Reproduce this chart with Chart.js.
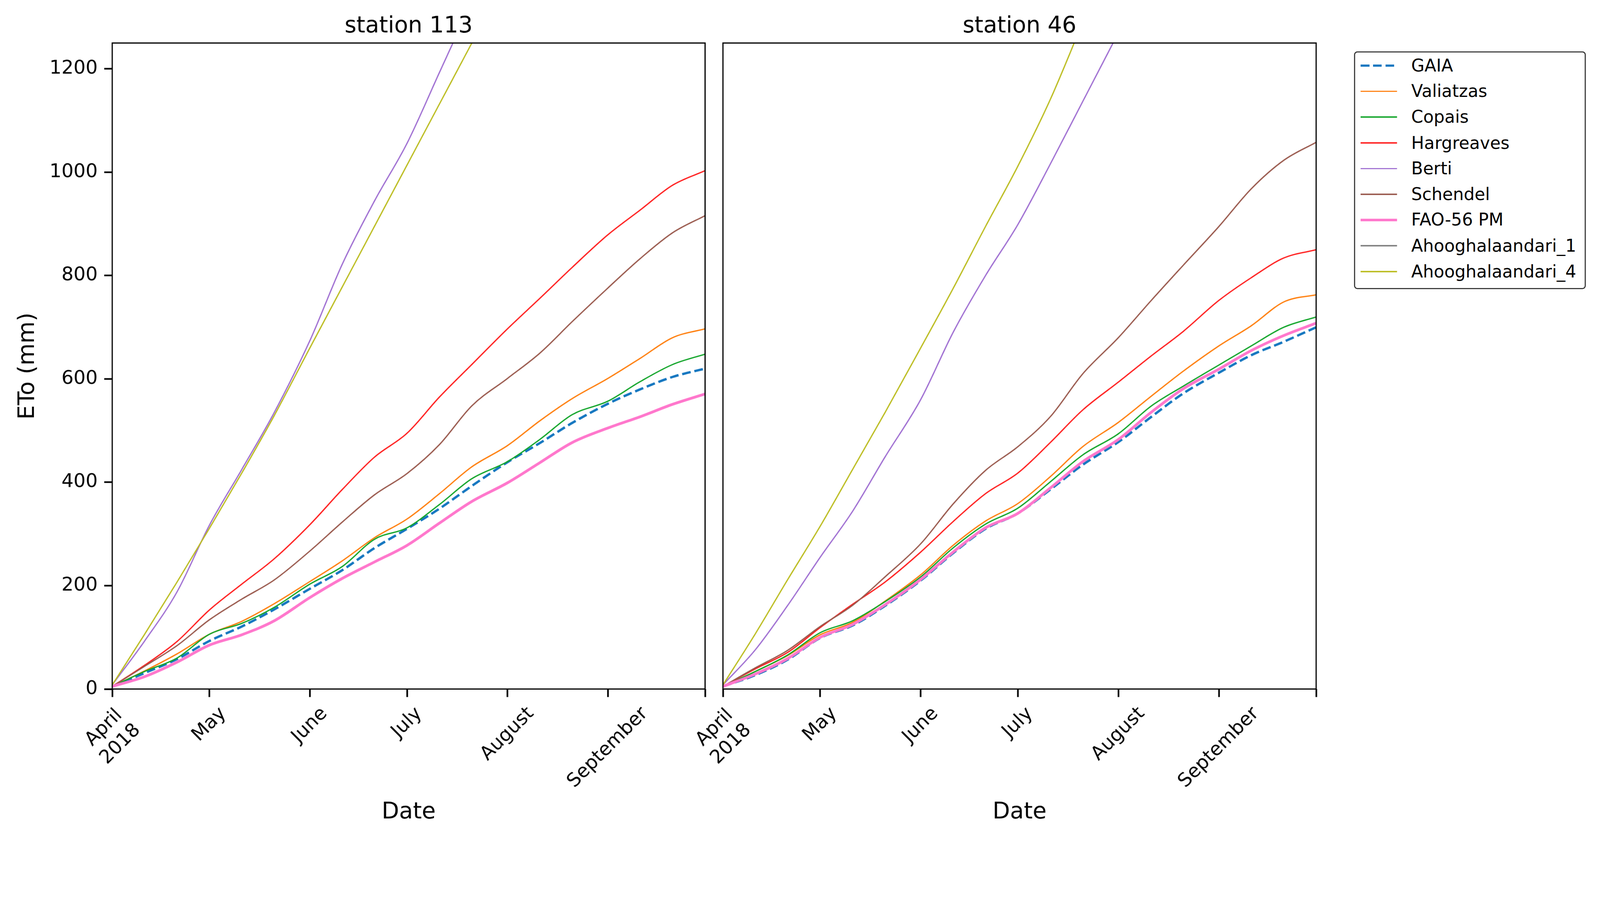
<!DOCTYPE html>
<html>
<head>
<meta charset="utf-8">
<script src="https://cdn.jsdelivr.net/npm/chart.js@4.4.1/dist/chart.umd.min.js"></script>
<style>
html,body{margin:0;padding:0;background:#fff;overflow:hidden;font-family:"DejaVu Sans",sans-serif;}
#wrap{position:absolute;left:0;top:0;width:4391px;height:2308px;transform-origin:0 0;background:#fff;}
canvas{position:absolute;top:0;}
#c1{left:0px;}
#c2{left:1700px;}
#legend{position:absolute;left:3716px;top:141px;width:636px;height:652px;border:3px solid #333;border-radius:9px;box-sizing:border-box;background:#fff;}
.row{position:absolute;left:0;right:0;height:60px;display:flex;align-items:center;}
.sample{margin-left:15px;width:100px;flex:none;}
.lbl{margin-left:39px;font-size:47px;color:#000;white-space:nowrap;line-height:1.16;}
</style>
</head>
<body>
<div id="wrap">
<canvas id="c1" width="1960" height="2308"></canvas>
<canvas id="c2" width="1960" height="2308"></canvas>
<div id="legend"></div>
</div>
<script>
// ---- data (days since 1 April 2018) ----
const days = [0,10,20,30,40,50,61,71,81,91,101,111,122,132,142,153,163,173,183];
const tickDays = [0,30,61,91,122,153,183];
const tickLabels = [['April','2018'],['May'],['June'],['July'],['August'],['September'],[]];
const yTicks = [0,200,400,600,800,1000,1200];

const seriesNames = ['GAIA','Valiatzas','Copais','Hargreaves','Berti','Schendel','FAO-56 PM','Ahooghalaandari_1','Ahooghalaandari_4'];
const seriesColors = ['#1677c0','#ff7f0e','#12a52a','#ff1f1f','#a070d2','#9a5a4e','#ff77cc','#7f7f7f','#bcbd22'];
const seriesWidths = [6.5,3.5,3.5,3.5,3.5,3.5,7.5,3.5,3.5];

// station 113
const gaia113       = [5,31,58,93,121,154,194,230,273,310,349,393,439,476,515,552,580,604,620];
const valiatzas113  = [5,35,68,106,131,165,208,248,293,329,378,430,471,519,562,601,640,680,697];
const copais113     = [5,34,60,106,127,158,203,237,290,312,357,407,440,483,531,557,595,628,648];
const hargreaves113 = [5,46,92,153,203,252,318,386,449,495,565,628,697,756,816,879,927,975,1003];
const berti113      = [8,93,188,317,425,535,674,822,945,1056,1193,1330];
const schendel113   = [5,44,84,134,174,211,267,323,376,417,473,548,601,650,711,776,833,883,916];
const fao113        = [5,24,52,85,105,132,177,214,246,278,321,363,399,438,477,505,527,551,571];
const ahoo1_113     = [];
const ahoo4_113     = [8,106,207,311,418,529,660,778,896,1014,1132,1250,1380];

// station 46
const gaia46       = [5,27,57,99,123,161,210,263,310,340,386,434,478,526,572,612,646,672,700];
const valiatzas46  = [5,34,65,105,129,170,221,278,325,359,411,469,516,566,615,664,703,749,763];
const copais46     = [5,34,66,109,132,169,217,273,319,350,401,453,494,547,586,627,664,700,720];
const hargreaves46 = [5,39,71,119,164,207,265,324,378,418,477,540,594,644,692,752,796,834,850];
const berti46      = [8,76,162,255,344,449,560,690,800,899,1016,1137,1270];
const schendel46   = [5,41,75,121,162,217,281,358,423,469,527,610,680,751,820,895,968,1023,1058];
const fao46        = [5,29,59,100,125,163,212,265,312,340,389,440,483,535,581,619,655,684,708];
const ahoo1_46     = [];
const ahoo4_46     = [8,107,212,315,425,535,660,775,895,1012,1141,1290];

const station113 = [gaia113,valiatzas113,copais113,hargreaves113,berti113,schendel113,fao113,ahoo1_113,ahoo4_113];
const station46  = [gaia46,valiatzas46,copais46,hargreaves46,berti46,schendel46,fao46,ahoo1_46,ahoo4_46];

// fit the 4391x2308 layout into the actual viewport
(function(){
  const w = document.documentElement.clientWidth || window.innerWidth;
  const h = document.documentElement.clientHeight || window.innerHeight;
  const s = Math.min(w/4391, h/2308);
  document.getElementById('wrap').style.transform = 'scale(' + s + ')';
})();

Chart.defaults.font.family = '"DejaVu Sans"';
Chart.defaults.color = '#000';

function makeDatasets(list){
  return seriesNames.map((name,i)=>({
    label:name,
    data: days.map((d,j)=>({x:d, y:(list[i][j]===undefined?null:list[i][j])})),
    borderColor: seriesColors[i],
    backgroundColor: seriesColors[i],
    borderWidth: seriesWidths[i],
    borderDash: i===0 ? [24,10.4] : [],
    pointRadius:0,
    fill:false,
    spanGaps:false,
    cubicInterpolationMode:'monotone',
    order: 20-i
  }));
}

const framePlugin = {
  id:'frame',
  afterDraw(chart){
    const a = chart.chartArea, ctx = chart.ctx;
    ctx.save();
    ctx.strokeStyle = '#000';
    ctx.lineWidth = 3.3;
    ctx.strokeRect(a.left, a.top, a.right-a.left, a.bottom-a.top);
    ctx.restore();
  }
};

const xLabelPlugin = {
  id:'xlabels',
  afterDraw(chart){
    const xs = chart.scales.x, ctx = chart.ctx;
    const fs = 52, lh = 64;
    ctx.save();
    ctx.font = fs + 'px "DejaVu Sans"';
    ctx.fillStyle = '#000';
    ctx.textAlign = 'center';
    ctx.textBaseline = 'middle';
    const ang = Math.PI/4, c = Math.cos(ang), s = Math.sin(ang);
    const y0 = chart.chartArea.bottom + 22 + 15;
    tickDays.forEach((d,i)=>{
      const lines = tickLabels[i];
      if(!lines.length) return;
      const w = Math.max(...lines.map(t=>ctx.measureText(t).width));
      const h = lines.length*lh;
      const H = w*s + h*c;
      const cx = xs.getPixelForValue(d), cy = y0 + H/2;
      ctx.save();
      ctx.translate(cx,cy);
      ctx.rotate(-ang);
      lines.forEach((t,k)=>ctx.fillText(t, 0, (k-(lines.length-1)/2)*lh));
      ctx.restore();
    });
    ctx.restore();
  }
};

function makeChart(id, title, list, isLeft){
  return new Chart(document.getElementById(id), {
    type:'line',
    data:{datasets: makeDatasets(list)},
    options:{
      responsive:false,
      animation:false,
      layout:{padding:{left:0,right:isLeft?25:48,top:0,bottom:0}},
      plugins:{
        legend:{display:false},
        tooltip:{enabled:false},
        title:{display:true, text:title, fullSize:false, color:'#000',
               font:{size:62, weight:'normal', family:'"DejaVu Sans"'},
               padding:{top:36,bottom:7.6}}
      },
      scales:{
        x:{
          type:'linear', min:0, max:183,
          afterBuildTicks: s=>{ s.ticks = tickDays.map(v=>({value:v})); },
          afterFit: s=>{ s.height = 418; },
          ticks:{display:false},
          grid:{display:true, drawOnChartArea:false, drawTicks:true, tickLength:22, tickWidth:4.5, tickColor:'#000'},
          border:{display:false},
          title:{display:true, text:'Date', color:'#000',
                 font:{size:62, family:'"DejaVu Sans"'}, padding:{top:0,bottom:42}}
        },
        y:{
          type:'linear', min:0, max:1250,
          afterBuildTicks: s=>{ s.ticks = yTicks.map(v=>({value:v})); },
          afterFit: s=>{ s.width = isLeft ? 308 : 284; },
          ticks:{display:isLeft, padding:18, color:'#000', font:{size:52, family:'"DejaVu Sans"'},
                 callback: v => String(v)},
          grid:{display:isLeft, drawOnChartArea:false, drawTicks:isLeft, tickLength:22, tickWidth:4.5, tickColor:'#000'},
          border:{display:false},
          title:{display:isLeft, text:'ETo (mm)', color:'#000',
                 font:{size:62, family:'"DejaVu Sans"'}, padding:{top:40,bottom:0}}
        }
      }
    },
    plugins:[framePlugin, xLabelPlugin]
  });
}

makeChart('c1','station 113', station113, true);
makeChart('c2','station 46', station46, false);

// legend
const leg = document.getElementById('legend');
seriesNames.forEach((name,i)=>{
  const row = document.createElement('div');
  row.className = 'row';
  row.style.top = (36 + 70.6*i - 30) + 'px';
  const sm = document.createElement('div');
  sm.className = 'sample';
  sm.style.height = seriesWidths[i] + 'px';
  if(i===0){
    sm.style.background = 'repeating-linear-gradient(to right,' + seriesColors[i] + ' 0px,' + seriesColors[i] + ' 24px,transparent 24px,transparent 34px)';
  } else {
    sm.style.background = seriesColors[i];
  }
  const lb = document.createElement('span');
  lb.className = 'lbl';
  lb.textContent = name;
  row.appendChild(sm);
  row.appendChild(lb);
  leg.appendChild(row);
});
</script>
</body>
</html>
